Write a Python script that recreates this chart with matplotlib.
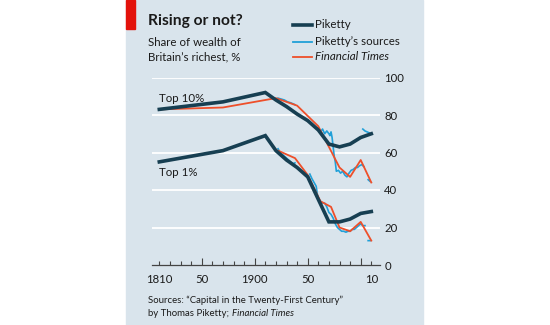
import numpy as np
import matplotlib
matplotlib.use("Agg")
import matplotlib.pyplot as plt
from matplotlib.patches import Rectangle

plt.rcParams['font.family'] = ['Lato', 'DejaVu Sans']

nan = np.nan

# Piketty (thick dark line)
pik_years = [1810, 1870, 1910, 1920, 1930, 1940, 1950, 1960, 1970, 1980, 1990, 2000, 2010]
pik_top10 = [83, 87, 92, 88, 84.5, 80.5, 77, 72, 64.5, 63, 64.5, 68, 70]
pik_top1_years = [1810, 1870, 1910, 1920, 1930, 1940, 1950, 1970, 1980, 1990, 2000, 2010]
pik_top1 = [55, 61, 69, 61, 56, 52, 47, 23, 23, 24.5, 27.5, 28.5]

# Financial Times
ft_top10_years = [1810, 1870, 1920, 1940, 1960, 1980, 1990, 2000, 2010]
ft_top10 = [83, 84, 89, 85, 74, 52, 47, 56, 44]
ft_top1_years = [1922, 1938, 1950, 1962, 1972, 1980, 1990, 2000, 2010]
ft_top1 = [61, 57, 48, 34, 31, 20, 18, 23, 13]

# Piketty's sources (annual, with gaps)
src_top10_years = [1922, 1925, 1928, 1931, 1934, 1938, nan,
                   1958, 1960, 1962, 1964, 1966, 1968, 1970, 1971, 1972, 1973,
                   1974, 1975, 1976, 1977, 1979, 1981, 1983, 1985, 1987, 1989,
                   1991, 1993, 1995, 1997, 1999, 2001, 2003, nan,
                   2002, 2004, 2006, 2008, nan, 2007, 2009]
src_top10 = [89, 88.5, 88, 87, 86.5, 85.5, nan,
             73, 73, 71, 72.5, 70, 71.5, 70, 69, 71, 68,
             63, 58, 55, 50, 50.5, 49, 50, 48, 47, 49,
             50.5, 51, 52, 52, 53, 53.5, 52.5, nan,
             72.5, 71.5, 71, 70.5, nan, 45.5, 44.5]
src_top1_years = [1922, 1924, 1926, 1928, 1930, 1932, 1934, 1936, 1938, nan,
                  1952, 1954, 1956, 1958, 1959, 1960, 1962, 1964, 1966, 1968,
                  1970, 1972, 1974, 1976, 1978, 1980, 1982, 1984, 1986, 1988,
                  1990, 1992, 1994, 1996, 1998, 2000, 2002, 2004, nan, 2007, 2009]
src_top1 = [62, 60, 59, 58, 57, 56, 55, 54, 54.5, nan,
            48.5, 46, 44, 42, 38, 35, 34, 33, 33, 31,
            28, 27, 25, 22, 20, 19, 18, 18, 17.5, 18,
            18, 19, 19, 20, 21, 22, 21, 21, nan, 13, 13]

x_label_years = [1810, 1850, 1900, 1950, 2010]
x_labels = ["1810", "50", "1900", "50", "10"]
y_ticks = [0, 20, 40, 60, 80, 100]

DARK = "#173f52"
BLUE = "#21a0d8"
RED = "#ee4f2a"
BG = "#d9e4ec"
TXT = "#1a1a1a"

W, H = 550, 325
fig = plt.figure(figsize=(5.5, 3.25), dpi=100)
fig.patch.set_facecolor("white")

def fx(px):
    return px / W

def fy(py):
    return 1 - py / H

# panel background and red tag
fig.patches.append(Rectangle((fx(126), 0), fx(423) - fx(126), 1,
                             transform=fig.transFigure, color=BG, zorder=0))
fig.patches.append(Rectangle((fx(126), fy(29)), fx(135) - fx(126), 29 / H,
                             transform=fig.transFigure, color="#e3120b", zorder=1))

ax = fig.add_axes([fx(152), fy(265), fx(380) - fx(152), (265 - 77.5) / H])
ax.set_zorder(5)
ax.set_facecolor("none")
ax.set_xlim(1803.1, 2018.2)
ax.set_ylim(0, 100)

for v in y_ticks[1:]:
    ax.axhline(v, color="white", lw=1.3, zorder=0)

ax.plot(src_top10_years, src_top10, color=BLUE, lw=1.2, zorder=2, clip_on=False)
ax.plot(src_top1_years, src_top1, color=BLUE, lw=1.2, zorder=2, clip_on=False)
ax.plot(ft_top10_years, ft_top10, color=RED, lw=1.3, zorder=3, clip_on=False)
ax.plot(ft_top1_years, ft_top1, color=RED, lw=1.3, zorder=3, clip_on=False)
ax.plot(pik_years, pik_top10, color=DARK, lw=2.6, zorder=4, clip_on=False,
        solid_joinstyle="miter")
ax.plot(pik_top1_years, pik_top1, color=DARK, lw=2.6, zorder=4, clip_on=False,
        solid_joinstyle="miter")

for s in ["left", "right", "top"]:
    ax.spines[s].set_visible(False)
ax.spines["bottom"].set_color("#444444")
ax.spines["bottom"].set_linewidth(0.9)

ax.set_xticks([1850, 1900, 1950, 2000])
ax.set_xticks(np.arange(1810, 2011, 10), minor=True)
ax.tick_params(axis="x", which="major", direction="in", length=5, width=0.8,
               color="#444444", labelbottom=False)
ax.tick_params(axis="x", which="minor", direction="in", length=2.6, width=0.8,
               color="#444444")
for yr, lab in zip(x_label_years, x_labels):
    ax.text(yr, -7.5, lab, ha="center", va="center", fontsize=8.2, color=TXT)

ax.yaxis.tick_right()
ax.set_yticks(y_ticks)
ax.set_yticklabels([str(v) for v in y_ticks])
ax.tick_params(axis="y", length=0, pad=3, labelsize=8.2, labelcolor=TXT)

ax.text(1810, 88.8, "Top 10%", ha="left", va="center", fontsize=8.3, color=TXT)
ax.text(1810, 49.3, "Top 1%", ha="left", va="center", fontsize=8.3, color=TXT)

# title and subtitle
fig.text(fx(148), fy(21), "Rising or not?", fontsize=11.2, fontweight="bold",
         color=TXT, va="center", ha="left")
fig.text(fx(148), fy(42), "Share of wealth of", fontsize=8.3, color=TXT,
         va="center", ha="left")
fig.text(fx(148), fy(57), "Britain\u2019s richest, %", fontsize=8.3, color=TXT,
         va="center", ha="left")

# legend
leg = [("Piketty", DARK, 2.6, "normal"),
       ("Piketty\u2019s sources", BLUE, 1.3, "normal"),
       ("Financial Times", RED, 1.3, "italic")]
for i, (lab, c, lw, st) in enumerate(leg):
    yy = [25, 41.5, 56.5][i]
    fig.add_artist(plt.Line2D([fx(293), fx(312)], [fy(yy), fy(yy)], color=c, lw=lw,
                              transform=fig.transFigure))
    fig.text(fx(315), fy(yy), lab, fontsize=8.3, color=TXT, va="center",
             ha="left", style=st)

# source note
fig.text(fx(148), fy(300), "Sources: \u201cCapital in the Twenty-First Century\u201d",
         fontsize=6.9, color=TXT, va="center", ha="left")
t1 = fig.text(fx(148), fy(313), "by Thomas Piketty; ", fontsize=6.9, color=TXT,
              va="center", ha="left")
fig.canvas.draw()
bb = t1.get_window_extent()
fig.text(bb.x1 / W, fy(313), "Financial Times", fontsize=6.9, color=TXT,
         va="center", ha="left", style="italic")

fig.savefig("out.png", dpi=100)
